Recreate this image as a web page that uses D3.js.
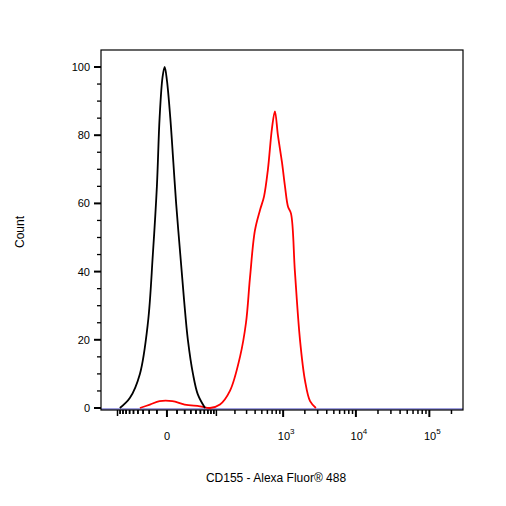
<!DOCTYPE html><html><head><script src="https://d3js.org/d3.v7.min.js"></script>
<style>body{margin:0;background:#fff}text{font-family:"Liberation Sans",Arial,sans-serif}</style></head><body><svg id="c" width="506" height="506"></svg>
<script>
const blackX=[-91,-59,-36,-22,-15,-10,-7,-4,-2,0,3,6,9,14,19,25,34,44,62];
const blackY=[0,3,10,25,45,65,85,97,100,96,85,72,60,45,32,20,10,4,0];
const redX=[-36,-19,-7,5,20,49,77,115,167,239,294,336,397,470,537,611,697,767,845,964,1061,1170,1288,1458,1714,2012,2360,2840];
const redY=[0,1,2,2,1,0.5,0,1,5,15,25,38,52,58,62,70,82,87,80,72,65,59,57,40,20,8,2,0];
const yTicks=[0,20,40,60,80,100];
const xMajor=[0,1000,10000,100000];
const xLabels=["0","10|3","10|4","10|5"];
const svg=d3.select("#c");
const L=101,R=463,T=50,B=410;
const x=d3.scaleSymlog().constant(27).domain([-186,287000]).range([L,R]);
const y=d3.scaleLinear().domain([0,100]).range([408,67]);
// minor ticks
let minor=[];
[-1,1].forEach(s=>{for(let e=1;e<=5;e++)for(let m=1;m<=9;m++){const v=s*m*Math.pow(10,e);if(v>-186&&v<287000&&!xMajor.includes(v))minor.push(v);}});
[-10,-20,-30,-40,-50,-60,-70,-80,-90,10,20,30,40,50,60,70,80,90].forEach(v=>minor.push(v));
const g=svg.append("g");
minor.forEach(v=>{const big=[100,-100,100000*0+200000].includes(v);g.append("line").attr("x1",x(v)).attr("x2",x(v)).attr("y1",B).attr("y2",B+(Math.abs(v)==100?6:4)).attr("stroke","#000").attr("stroke-width",1.5);});
xMajor.forEach((v,i)=>{g.append("line").attr("x1",x(v)).attr("x2",x(v)).attr("y1",B).attr("y2",B+7).attr("stroke","#000").attr("stroke-width",2);
 const p=xLabels[i].split("|");const t=g.append("text").attr("x",x(v)+(p[1]?3:0)).attr("y",B+30).attr("text-anchor","middle").attr("font-size",11).text(p[0]);
 if(p[1])t.append("tspan").attr("dy",-6).attr("font-size",8).text(p[1]);});
// y ticks
d3.range(0,101,5).forEach(v=>{const maj=v%20==0;g.append("line").attr("x1",L).attr("x2",L-(maj?7:4)).attr("y1",y(v)).attr("y2",y(v)).attr("stroke","#000").attr("stroke-width",maj?2:1.3);});
yTicks.forEach(v=>g.append("text").attr("x",L-11).attr("y",y(v)+4).attr("text-anchor","end").attr("font-size",11).text(v));
svg.append("line").attr("x1",L).attr("x2",R).attr("y1",B-1).attr("y2",B-1).attr("stroke","#4040c0").attr("stroke-width",1);
const line=d3.line().x(d=>x(d[0])).y(d=>y(d[1])).curve(d3.curveCatmullRom);
svg.append("path").attr("d",line(redX.map((v,i)=>[v,redY[i]]))).attr("fill","none").attr("stroke","#ff0000").attr("stroke-width",1.8);
svg.append("path").attr("d",line(blackX.map((v,i)=>[v,blackY[i]]))).attr("fill","none").attr("stroke","#000").attr("stroke-width",1.8);
svg.append("rect").attr("x",L).attr("y",T).attr("width",R-L).attr("height",B-T).attr("fill","none").attr("stroke","#000").attr("stroke-width",1.2);
svg.append("text").attr("x",276).attr("y",482).attr("text-anchor","middle").attr("font-size",12).text("CD155 - Alexa Fluor® 488");
svg.append("text").attr("transform","translate(24,232) rotate(-90)").attr("text-anchor","middle").attr("font-size",12).text("Count");
</script></body></html>
